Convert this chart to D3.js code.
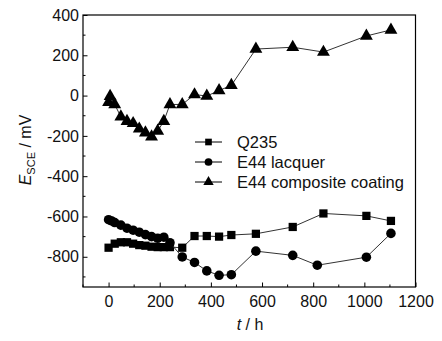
<!DOCTYPE html>
<html>
<head>
<meta charset="utf-8">
<script src="https://cdn.jsdelivr.net/npm/d3@7"></script>
<style>
  html, body { margin: 0; padding: 0; background: #fff; }
  svg { display: block; font-family: "Liberation Sans", Arial, sans-serif; }
</style>
</head>
<body>
<svg id="chart" width="442" height="341"></svg>
<script>
// Open-circuit potential vs immersion time
const seriesNames = ["Q235", "E44 lacquer", "E44 composite coating"];

const q235Time  = [0, 24, 48, 72, 96, 120, 144, 168, 192, 216, 240, 288, 336, 384, 432, 480, 576, 720, 840, 1008, 1104];
const q235E     = [-755, -735, -728, -728, -735, -742, -745, -750, -752, -752, -752, -755, -697, -697, -700, -692, -686, -652, -585, -597, -622];

const lacquerTime = [0, 12, 24, 48, 72, 96, 120, 144, 168, 192, 216, 240, 288, 336, 384, 432, 480, 576, 720, 816, 1008, 1104];
const lacquerE    = [-616, -622, -630, -643, -658, -668, -678, -690, -700, -708, -703, -730, -801, -828, -870, -892, -889, -772, -793, -842, -802, -684];

const compositeTime = [0, 6, 24, 48, 72, 96, 120, 144, 168, 192, 216, 240, 288, 336, 384, 432, 480, 576, 720, 840, 1008, 1104];
const compositeE    = [-33, -3, -44, -105, -127, -138, -165, -184, -204, -176, -127, -44, -44, 5, -2, 25, 51, 231, 240, 216, 296, 326];

const xTicks = [0, 200, 400, 600, 800, 1000, 1200];
const yTicks = [-800, -600, -400, -200, 0, 200, 400];

const svg = d3.select("#chart");
const plot = { left: 83, right: 415.5, top: 15, bottom: 287 };

const x = d3.scaleLinear().domain([-100, 1200]).range([plot.left, plot.right]);
const y = d3.scaleLinear().domain([-950, 400]).range([plot.bottom, plot.top]);

const series = [
  { name: seriesNames[0], t: q235Time, e: q235E, symbol: d3.symbolSquare, size: 68 },
  { name: seriesNames[1], t: lacquerTime, e: lacquerE, symbol: d3.symbolCircle, size: 72 },
  { name: seriesNames[2], t: compositeTime, e: compositeE, symbol: d3.symbolTriangle, size: 72 }
];

// Axes with inward ticks; minor ticks every 100
const minorX = d3.range(-100, 1201, 100).filter(v => !xTicks.includes(v));
const minorY = d3.range(-900, 401, 100).filter(v => !yTicks.includes(v));

const xAxis = svg.append("g").attr("transform", `translate(0,${plot.bottom})`)
  .call(d3.axisBottom(x).tickValues(xTicks).tickSize(-4.5).tickPadding(9).tickFormat(d3.format("d")));
const yAxis = svg.append("g").attr("transform", `translate(${plot.left},0)`)
  .call(d3.axisLeft(y).tickValues(yTicks).tickSize(-4.5).tickPadding(4).tickFormat(d3.format("d")));

[xAxis, yAxis].forEach(g => {
  g.select(".domain").remove();
  g.selectAll("line").attr("stroke", "#000");
  g.selectAll("text").attr("font-size", 16).attr("fill", "#111")
    .attr("font-family", "'Liberation Sans', Arial, sans-serif");
});
yAxis.selectAll("text").text(d => d < 0 ? "-" + Math.abs(d) : d);

svg.append("g").selectAll("line").data(minorX).join("line")
  .attr("x1", d => x(d)).attr("x2", d => x(d))
  .attr("y1", plot.bottom).attr("y2", plot.bottom - 2.5).attr("stroke", "#000");
svg.append("g").selectAll("line").data(minorY).join("line")
  .attr("y1", d => y(d)).attr("y2", d => y(d))
  .attr("x1", plot.left).attr("x2", plot.left + 2.5).attr("stroke", "#000");

// Frame
svg.append("rect")
  .attr("x", plot.left).attr("y", plot.top)
  .attr("width", plot.right - plot.left).attr("height", plot.bottom - plot.top)
  .attr("fill", "none").attr("stroke", "#000").attr("stroke-width", 1.2);

// Series lines and markers
const line = d3.line().x(d => x(d[0])).y(d => y(d[1]));
series.forEach(s => {
  const pts = s.t.map((t, i) => [t, s.e[i]]);
  svg.append("path").datum(pts)
    .attr("d", line).attr("fill", "none")
    .attr("stroke", "#333").attr("stroke-width", 1);
  svg.append("g").selectAll("path").data(pts).join("path")
    .attr("transform", d => `translate(${x(d[0])},${y(d[1])})`)
    .attr("d", d3.symbol(s.symbol, s.size))
    .attr("fill", "#000");
});

// Legend
const legend = svg.append("g");
series.forEach((s, i) => {
  const cy = 142 + i * 20;
  legend.append("line").attr("x1", 195).attr("x2", 222).attr("y1", cy).attr("y2", cy)
    .attr("stroke", "#000").attr("stroke-width", 1);
  legend.append("path").attr("transform", `translate(208.5,${cy})`)
    .attr("d", d3.symbol(s.symbol, s.size * 0.65)).attr("fill", "#000");
  legend.append("text").attr("x", 237).attr("y", cy + 6)
    .attr("font-size", 16.5).attr("fill", "#111").text(s.name);
});

// Axis titles
const xt = svg.append("text").attr("x", 250).attr("y", 330)
  .attr("text-anchor", "middle").attr("font-size", 16).attr("fill", "#111");
xt.append("tspan").attr("font-style", "italic").text("t");
xt.append("tspan").text(" / h");

const yt = svg.append("text")
  .attr("transform", "translate(31,150) rotate(-90)")
  .attr("text-anchor", "middle").attr("font-size", 16).attr("fill", "#111");
yt.append("tspan").attr("font-style", "italic").text("E");
yt.append("tspan").attr("font-size", 11).attr("dy", 4).text("SCE");
yt.append("tspan").attr("dy", -4).text(" / mV");
</script>
</body>
</html>
